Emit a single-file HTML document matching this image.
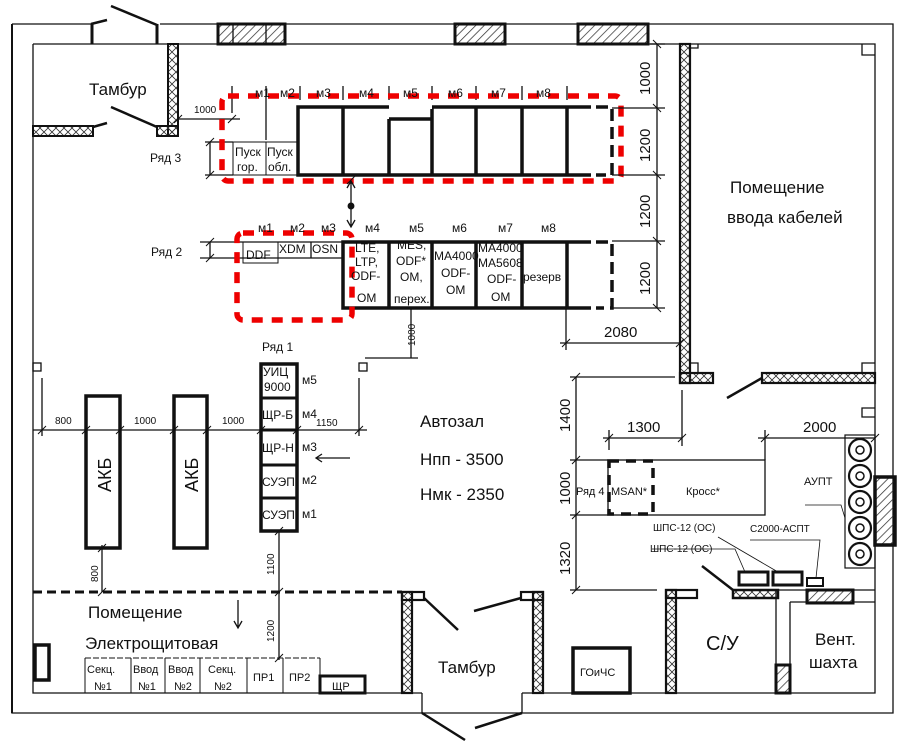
<!DOCTYPE html>
<html><head><meta charset="utf-8"><style>
html,body{margin:0;padding:0;background:#fff;width:912px;height:748px;overflow:hidden}
svg{display:block}
text{font-family:"Liberation Sans",sans-serif;fill:#111}
</style></head><body>
<svg width="912" height="748" viewBox="0 0 912 748" xmlns="http://www.w3.org/2000/svg">
<defs>
<pattern id="h" width="6" height="6" patternUnits="userSpaceOnUse" patternTransform="rotate(45)"><line x1="0" y1="0" x2="0" y2="6" stroke="#333" stroke-width="1.5"/></pattern>
<pattern id="x" width="8" height="8" patternUnits="userSpaceOnUse"><path d="M0,0L8,8M8,0L0,8" stroke="#333" stroke-width="0.8"/></pattern>
</defs>
<g stroke="#111" fill="none" stroke-width="1.3">
<path d="M12,24H92M160,24H893V713H12V24"/>
<path d="M33,44V693H402M412,693H422M522,693H875V44H33"/>
<line x1="12" y1="24" x2="12" y2="713" stroke-width="2"/>
<rect x="218" y="24" width="67" height="20" fill="url(#h)" stroke-width="3"/>
<rect x="455" y="24" width="50" height="20" fill="url(#h)" stroke-width="3"/>
<rect x="578" y="24" width="70" height="20" fill="url(#h)" stroke-width="3"/>
<line x1="233" y1="24" x2="233" y2="44"/><line x1="266" y1="24" x2="266" y2="44"/>
<rect x="168" y="44" width="10" height="92" fill="url(#x)" stroke-width="2"/>
<rect x="157" y="126" width="21" height="10" fill="url(#x)" stroke-width="2"/>
<rect x="33" y="126" width="60" height="10" fill="url(#x)" stroke-width="2"/>
<path d="M111,6L157,25M91,24L107,20M111,107L157,127M93,127L107,123" stroke-width="2.5"/>
<path d="M92,24V44M157,24V44" stroke-width="3"/>
<path d="M178,119H240M232,86V113M266,86V140M300,86V100M343,86V100M389,86V100M432,86V100M476,86V100M522,86V100M567,86V100"/>
<path d="M210,142V175M205,142H233M205,175H233"/>
<rect x="233" y="142" width="65" height="33" stroke-width="1"/><line x1="266" y1="142" x2="266" y2="175" stroke-width="1"/>
<path d="M591,107H298V175H591" stroke-width="3.5"/>
<path d="M343,107V175M389,119V175M432,107V175M476,107V175M522,107V175M567,107V175M389,119H432" stroke-width="3.5"/>
<path d="M389,107H432" stroke="#fff" stroke-width="4"/>
<path d="M596,107H612V175H596" stroke-width="3.5" stroke-dasharray="12,6"/>
<rect x="222" y="96" width="399" height="85" rx="6" stroke="#e00" stroke-width="5.5" stroke-dasharray="11,9"/>
<path d="M351,181V227M347,188L351,181L355,188M347,220L351,227L355,220"/>
<circle cx="351" cy="206" r="2.8" fill="#111"/>
<path d="M200,242H343M200,258H343M210,242V258"/>
<rect x="243" y="242" width="35" height="21" stroke-width="1"/>
<path d="M311,242V258"/>
<path d="M591,242H343V308H591" stroke-width="3.5"/>
<path d="M389,242V308M432,242V308M476,242V308M522,242V308M567,242V308" stroke-width="3.5"/>
<path d="M596,242H612V308H596" stroke-width="3.5" stroke-dasharray="12,6"/>
<rect x="237" y="233" width="115" height="87" rx="6" stroke="#e00" stroke-width="5.5" stroke-dasharray="11,9"/>
<path d="M657,44V308M612,108H665M612,175H665M612,241H665M612,308H665M650,44H665"/>
<path d="M566,308V350M560,343H680"/>
<path d="M411,308V358M365,358H418"/>
<rect x="359" y="363" width="8" height="8"/>
<rect x="680" y="44" width="10" height="339" fill="url(#x)" stroke-width="2.2"/>
<rect x="680" y="373" width="33" height="10" fill="url(#x)" stroke-width="2.2"/>
<rect x="762" y="373" width="113" height="10" fill="url(#x)" stroke-width="2.2"/>
<path d="M762,378L727,398" stroke-width="2.5"/>
<path d="M690,44V48H698V44M875,55H862V44M875,363H862V373M690,363H698V373"/>
<rect x="261" y="364" width="36" height="167" stroke-width="3.5"/>
<path d="M261,398H297M261,430H297M261,465H297M261,498H297" stroke-width="3"/>
<rect x="86" y="396" width="34" height="152" stroke-width="3.5"/>
<rect x="174" y="396" width="33" height="152" stroke-width="3.5"/>
<path d="M33,430H367M42,378V436M359,378V436"/>
<path d="M350,458H316M322,454L316,458L322,462"/>
<rect x="33" y="363" width="8" height="8"/>
<path d="M33,592H402" stroke-width="3" stroke-dasharray="9,5"/>
<path d="M102,545V592M279,531V660"/>
<path d="M238,600V628M234,621L238,628L242,621"/>
<path d="M85,658H320" stroke-width="1" stroke-dasharray="6,2"/>
<path d="M85,693V658M320,658V693M131,658V693M165,658V693M200,658V693M247,658V693M283,658V693" stroke-width="1"/>
<rect x="320" y="676" width="45" height="17" stroke-width="3"/>
<rect x="35" y="645" width="14" height="35" stroke-width="3.5"/>
<rect x="402" y="592" width="10" height="101" fill="url(#x)" stroke-width="2.2"/>
<rect x="402" y="592" width="22" height="8" stroke-width="2.2"/>
<rect x="533" y="592" width="10" height="101" fill="url(#x)" stroke-width="2.2"/>
<rect x="521" y="592" width="22" height="8" stroke-width="2.2"/>
<path d="M424,598L458,630M521,598L474,611M422,713L465,740M522,713L475,728" stroke-width="2.5"/>
<path d="M422,693V713M522,693V713"/>
<rect x="573" y="648" width="57" height="45" stroke-width="3.5"/>
<rect x="666" y="590" width="10" height="103" fill="url(#x)" stroke-width="2.2"/>
<rect x="666" y="590" width="31" height="8" stroke-width="2.2"/>
<path d="M776,590V693M790,602V693M790,602H875M733,590H875"/>
<rect x="776" y="665" width="14" height="28" fill="url(#h)" stroke-width="3"/>
<rect x="733" y="590" width="45" height="8" fill="url(#x)" stroke-width="2.5"/>
<rect x="807" y="590" width="46" height="13" fill="url(#h)" stroke-width="3"/>
<rect x="739" y="572" width="29" height="13" stroke-width="3"/>
<rect x="773" y="572" width="29" height="13" stroke-width="3"/>
<rect x="807" y="578" width="16" height="8" stroke-width="2"/>
<path d="M702,566L733,590" stroke-width="2.5"/>
<path d="M652,549H735L745,572M718,537L778,572M750,540H820L816,578M805,505H841L845,518" stroke-width="0.8"/>
<rect x="845" y="435" width="30" height="133" stroke-width="1.2"/>
<g stroke-width="2.2"><circle cx="860" cy="450" r="11"/><circle cx="860" cy="476" r="11"/><circle cx="860" cy="502" r="11"/><circle cx="860" cy="528" r="11"/><circle cx="860" cy="554" r="11"/></g>
<g stroke-width="1.5"><circle cx="860" cy="450" r="4"/><circle cx="860" cy="476" r="4"/><circle cx="860" cy="502" r="4"/><circle cx="860" cy="528" r="4"/><circle cx="860" cy="554" r="4"/></g>
<rect x="875" y="477" width="20" height="68" fill="url(#h)" stroke-width="3.5"/>
<path d="M875,408H862V417H875"/>
<rect x="608" y="460" width="157" height="55"/>
<rect x="609" y="461" width="44" height="53" stroke-width="3.5" stroke-dasharray="10,7" fill="#fff"/>
<path d="M576,377V590M570,377H675M570,460H608M570,515H608M570,590H657"/>
<path d="M603,438H682M609,430V450M682,390V446M758,438H875M765,430V460"/>
</g>
<g stroke="#111" stroke-width="1">
<path d="M653,40L661,48M653,104L661,112M653,171L661,179M653,237L661,245M653,304L661,312M562,347L570,339M676,347L684,339M347,184L355,176M206,146L214,138M206,179L214,171M206,246L214,238M206,262L214,254M38,434L46,426M82,434L90,426M116,434L124,426M170,434L178,426M203,434L211,426M257,434L265,426M293,434L301,426M355,434L363,426M98,552L106,544M98,596L106,588M275,535L283,527M275,596L283,588M275,662L283,654M572,381L580,373M572,464L580,456M572,519L580,511M572,594L580,586M605,442L613,434M678,442L686,434M761,442L769,434M871,442L879,434M174,123L182,115M228,123L236,115"/>
</g>
<g font-size="12">
<text x="255" y="97">м1</text><text x="280" y="97">м2</text><text x="316" y="97">м3</text><text x="359" y="97">м4</text><text x="403" y="97">м5</text><text x="448" y="97">м6</text><text x="491" y="97">м7</text><text x="536" y="97">м8</text>
<text x="258" y="232">м1</text><text x="290" y="232">м2</text><text x="321" y="232">м3</text><text x="365" y="232">м4</text><text x="409" y="232">м5</text><text x="452" y="232">м6</text><text x="498" y="232">м7</text><text x="541" y="232">м8</text>
</g>
<g font-size="12">
<text x="235" y="156">Пуск</text><text x="237" y="171">гор.</text><text x="267" y="156">Пуск</text><text x="268" y="171">обл.</text>
<text x="246" y="259">DDF</text><text x="279" y="253">XDM</text><text x="312" y="253">OSN</text>
<text x="355" y="252">LTE,</text><text x="355" y="266">LTP,</text><text x="351" y="280">ODF-</text><text x="357" y="302">OM</text>
<text x="397" y="249">MES,</text><text x="396" y="265">ODF*</text><text x="400" y="281">OM,</text><text x="394" y="303">перех.</text>
<text x="434" y="260">MA4000</text><text x="441" y="277">ODF-</text><text x="446" y="294">OM</text>
<text x="478" y="252">MA4000</text><text x="478" y="267">MA5608</text><text x="487" y="283">ODF-</text><text x="491" y="301">OM</text>
<text x="523" y="281">резерв</text>
<text x="150" y="162">Ряд 3</text><text x="151" y="256">Ряд 2</text><text x="262" y="351">Ряд 1</text>
<text x="194" y="113" font-size="10">1000</text>
<text x="263" y="376">УИЦ</text><text x="264" y="391">9000</text><text x="262" y="419">ЩР-Б</text><text x="262" y="452">ЩР-Н</text><text x="262" y="486">СУЭП</text><text x="262" y="519">СУЭП</text>
<text x="302" y="384">м5</text><text x="302" y="418">м4</text><text x="302" y="451">м3</text><text x="302" y="484">м2</text><text x="302" y="518">м1</text>
</g>
<g font-size="10">
<text x="55" y="424">800</text><text x="134" y="424">1000</text><text x="222" y="424">1000</text><text x="316" y="426">1150</text>
<text transform="translate(98,582) rotate(-90)">800</text>
<text transform="translate(274,575) rotate(-90)">1100</text>
<text transform="translate(274,642) rotate(-90)">1200</text>
<text transform="translate(415,346) rotate(-90)">1000</text>
</g>
<g font-size="15">
<text transform="translate(650,95) rotate(-90)">1000</text>
<text transform="translate(650,162) rotate(-90)">1200</text>
<text transform="translate(650,228) rotate(-90)">1200</text>
<text transform="translate(650,295) rotate(-90)">1200</text>
<text x="604" y="337">2080</text>
<text transform="translate(570,432) rotate(-90)">1400</text>
<text transform="translate(570,505) rotate(-90)">1000</text>
<text transform="translate(570,575) rotate(-90)">1320</text>
<text x="627" y="432">1300</text><text x="803" y="432">2000</text>
</g>
<g font-size="17">
<text x="89" y="95">Тамбур</text>
<text x="730" y="193">Помещение</text><text x="727" y="223">ввода кабелей</text>
<text x="420" y="427">Автозал</text><text x="420" y="465">Нпп - 3500</text><text x="420" y="500">Нмк - 2350</text>
<text x="88" y="618">Помещение</text><text x="85" y="649">Электрощитовая</text>
<text x="438" y="673">Тамбур</text>
<text x="706" y="650" font-size="20">С/У</text>
<text x="815" y="645">Вент.</text><text x="809" y="668">шахта</text>
</g>
<text font-size="18" transform="translate(111,492) rotate(-90)">АКБ</text>
<text font-size="18" transform="translate(198,492) rotate(-90)">АКБ</text>
<g font-size="11">
<text x="87" y="673">Секц.</text><text x="94" y="690">№1</text>
<text x="133" y="673">Ввод</text><text x="138" y="690">№1</text>
<text x="168" y="673">Ввод</text><text x="174" y="690">№2</text>
<text x="208" y="673">Секц.</text><text x="214" y="690">№2</text>
<text x="253" y="681">ПР1</text><text x="289" y="681">ПР2</text>
<text x="332" y="690">ЩР</text>
<text x="580" y="676">ГОиЧС</text>
<text x="576" y="495">Ряд 4</text><text x="611" y="495">MSAN*</text><text x="686" y="495">Кросс*</text>
<text x="804" y="485">АУПТ</text>
<text x="653" y="531" font-size="10">ШПС-12 (ОС)</text>
<text x="650" y="552" font-size="10">ШПС-12 (ОС)</text>
<text x="750" y="532" font-size="10">С2000-АСПТ</text>
</g>
</svg>
</body></html>
